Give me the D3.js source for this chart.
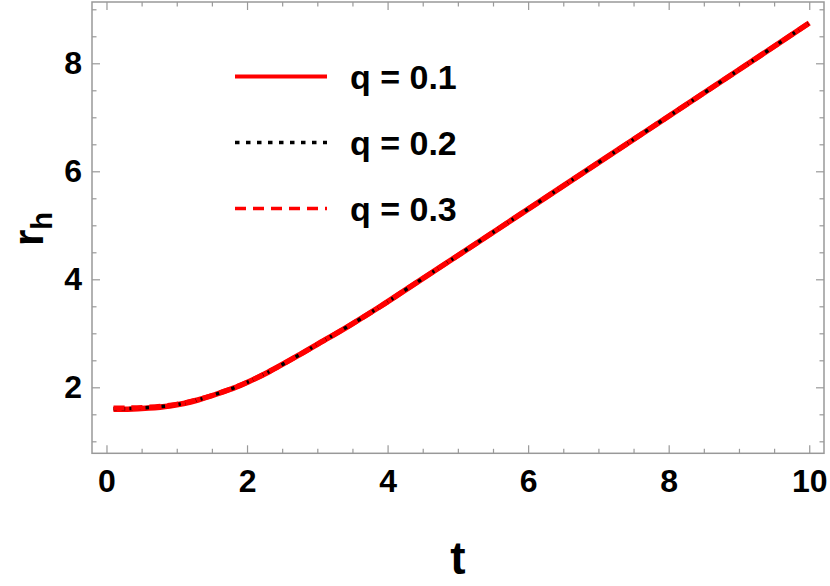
<!DOCTYPE html>
<html>
<head>
<meta charset="utf-8">
<script src="https://cdn.jsdelivr.net/npm/d3@7"></script>
<style>
  html, body { margin: 0; padding: 0; background: #fff; }
  svg { display: block; }
  text { font-family: "Liberation Sans", Arial, sans-serif; font-weight: bold; fill: #000; }
</style>
</head>
<body>
<svg id="chart" width="830" height="586"></svg>
<script>
// ---- data ----
const tValues = [0.1, 0.3, 0.6, 0.9, 1.1, 1.3, 1.57, 1.85, 2.0, 2.3, 2.75, 3.0, 3.44, 3.9, 4.32, 5, 6, 7, 8, 9, 10];
const rQ1 = [1.593, 1.594, 1.615, 1.655, 1.70, 1.765, 1.876, 2.005, 2.09, 2.28, 2.605, 2.795, 3.13, 3.50, 3.86, 4.44, 5.30, 6.16, 7.02, 7.88, 8.746];
const rQ2 = [1.605, 1.606, 1.625, 1.66, 1.705, 1.768, 1.878, 2.007, 2.09, 2.28, 2.605, 2.795, 3.13, 3.50, 3.86, 4.44, 5.30, 6.16, 7.02, 7.88, 8.746];
const rQ3 = [1.618, 1.618, 1.635, 1.668, 1.71, 1.772, 1.88, 2.01, 2.092, 2.28, 2.605, 2.795, 3.13, 3.50, 3.86, 4.44, 5.30, 6.16, 7.02, 7.88, 8.746];
const legendLabels = ["q = 0.1", "q = 0.2", "q = 0.3"];
const xTicks = [0, 2, 4, 6, 8, 10];
const yTicks = [2, 4, 6, 8];
const xLabel = "t";

// ---- layout ----
const svg = d3.select("#chart");
const L = 92, R = 824, T = 2, B = 453.3;
const x = d3.scaleLinear().domain([-0.206, 10.21]).range([L, R]);
const y = d3.scaleLinear().domain([0.778, 9.135]).range([B, T]);
const frameColor = "#999";

const series = [
  { vals: rQ1, color: "#ff0000", width: 5.5, dash: null },
  { vals: rQ2, color: "#000000", width: 3.5, dash: "3.5,4.5" },
  { vals: rQ3, color: "#ff0000", width: 5, dash: "11,7" }
];

svg.append("defs").append("clipPath").attr("id", "clip")
  .append("rect").attr("x", L).attr("y", T).attr("width", R - L).attr("height", B - T);

const line = d3.line().x(d => x(d[0])).y(d => y(d[1])).curve(d3.curveCatmullRom.alpha(0.5));
const plot = svg.append("g").attr("clip-path", "url(#clip)");
series.forEach(s => {
  const pts = tValues.map((t, i) => [t, s.vals[i]]);
  plot.append("path").datum(pts)
    .attr("d", line)
    .attr("fill", "none")
    .attr("stroke", s.color)
    .attr("stroke-width", s.width)
    .attr("stroke-dasharray", s.dash);
});

// ---- axes (frame with ticks on all sides) ----
const xMinor = d3.range(0, 10.01, 0.5).filter(v => !xTicks.includes(v));
const yMinor = d3.range(1, 9.01, 0.5).filter(v => !yTicks.includes(v));

function styleAxis(g) {
  g.select(".domain").remove();
  g.selectAll(".tick line").attr("stroke", frameColor).attr("stroke-width", 1.2);
}
function styleLabels(g) {
  g.selectAll("text").attr("font-size", 32)
    .attr("font-family", "Liberation Sans, Arial, sans-serif")
    .attr("font-weight", "bold").attr("fill", "#000");
}

// bottom major with labels
svg.append("g").attr("transform", `translate(0,${B})`)
  .call(d3.axisBottom(x).tickValues(xTicks).tickSize(-8).tickPadding(16).tickFormat(d3.format("d")))
  .call(styleAxis).call(styleLabels);
svg.append("g").attr("transform", `translate(0,${B})`)
  .call(d3.axisBottom(x).tickValues(xMinor).tickSize(-4.5).tickFormat(""))
  .call(styleAxis);
// top
svg.append("g").attr("transform", `translate(0,${T})`)
  .call(d3.axisTop(x).tickValues(xTicks).tickSize(-8).tickFormat(""))
  .call(styleAxis);
svg.append("g").attr("transform", `translate(0,${T})`)
  .call(d3.axisTop(x).tickValues(xMinor).tickSize(-4.5).tickFormat(""))
  .call(styleAxis);
// left with labels
svg.append("g").attr("transform", `translate(${L},0)`)
  .call(d3.axisLeft(y).tickValues(yTicks).tickSize(-8).tickPadding(10).tickFormat(d3.format("d")))
  .call(styleAxis).call(styleLabels);
svg.append("g").attr("transform", `translate(${L},0)`)
  .call(d3.axisLeft(y).tickValues(yMinor).tickSize(-4.5).tickFormat(""))
  .call(styleAxis);
// right
svg.append("g").attr("transform", `translate(${R},0)`)
  .call(d3.axisRight(y).tickValues(yTicks).tickSize(-8).tickFormat(""))
  .call(styleAxis);
svg.append("g").attr("transform", `translate(${R},0)`)
  .call(d3.axisRight(y).tickValues(yMinor).tickSize(-4.5).tickFormat(""))
  .call(styleAxis);

// frame
svg.append("rect").attr("x", L).attr("y", T).attr("width", R - L).attr("height", B - T)
  .attr("fill", "none").attr("stroke", frameColor).attr("stroke-width", 1.5);

// ---- axis labels ----
svg.append("text").attr("x", (L + R) / 2).attr("y", 574)
  .attr("text-anchor", "middle").attr("font-size", 46).text(xLabel);

const yl = svg.append("text").attr("transform", "translate(43,246) rotate(-90)")
  .attr("text-anchor", "start").attr("font-size", 42);
yl.append("tspan").text("r");
yl.append("tspan").attr("font-size", 29).attr("dy", 9).text("h");

// ---- legend ----
const legY = [76.6, 142.5, 208.5];
series.forEach((s, i) => {
  svg.append("line")
    .attr("x1", 235).attr("x2", 327).attr("y1", legY[i]).attr("y2", legY[i])
    .attr("stroke", s.color)
    .attr("stroke-width", i === 0 ? 4 : 3.4)
    .attr("stroke-dasharray", i === 1 ? "4.5,6.5" : (i === 2 ? "11,7" : null));
  svg.append("text").attr("x", 350).attr("y", legY[i] + 12)
    .attr("font-size", 34).text(legendLabels[i]);
});
</script>
</body>
</html>
